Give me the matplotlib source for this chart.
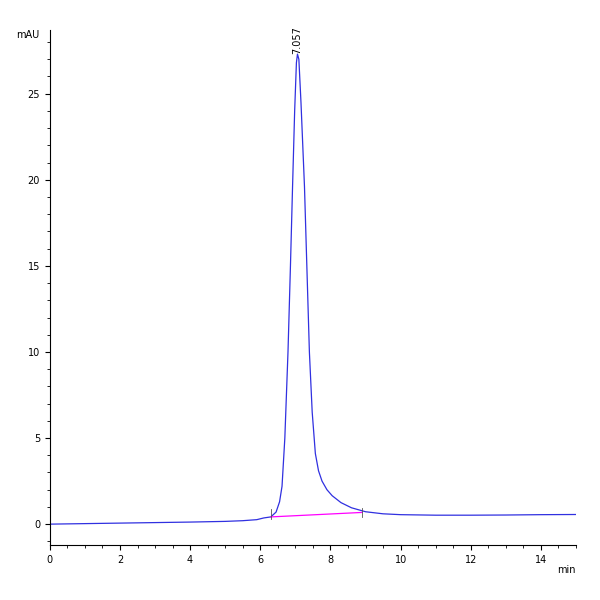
import matplotlib
matplotlib.use("Agg")
import matplotlib.pyplot as plt
from matplotlib.ticker import MultipleLocator

t = [0, 1, 2, 3, 4, 5, 5.5, 5.9, 6.1, 6.3, 6.45, 6.55, 6.62, 6.7, 6.79, 6.86, 6.92, 6.98, 7.03, 7.06,
     7.1, 7.16, 7.26, 7.33, 7.40, 7.48, 7.57, 7.66, 7.76, 7.9, 8.05, 8.3, 8.6, 9.0, 9.5, 10, 11, 12, 13, 14, 15]
sig = [0.0, 0.03, 0.06, 0.09, 0.12, 0.16, 0.2, 0.26, 0.36, 0.42, 0.7, 1.3, 2.2, 5.0, 10.0, 15.0, 19.6, 24.0, 26.8, 27.3,
       27.0, 24.5, 19.6, 14.8, 10.0, 6.5, 4.1, 3.1, 2.5, 2.0, 1.65, 1.25, 0.95, 0.72, 0.6, 0.55, 0.52, 0.52, 0.53, 0.55, 0.56]
base_t = [6.3, 8.9]
base_v = [0.42, 0.68]

fig = plt.figure(figsize=(6, 6), dpi=100)
ax = fig.add_axes([0.083, 0.092, 0.877, 0.858])
ax.plot(t, sig, color="#3030e0", lw=0.9)
ax.plot(base_t, base_v, color="#ff00ff", lw=0.9)
ax.set_xlim(0, 15)
ax.set_ylim(-1.2, 28.7)
for s in ["top", "right"]:
    ax.spines[s].set_visible(False)
ax.xaxis.set_major_locator(MultipleLocator(2))
ax.xaxis.set_minor_locator(MultipleLocator(0.5))
ax.yaxis.set_major_locator(MultipleLocator(5))
ax.yaxis.set_minor_locator(MultipleLocator(1))
ax.tick_params(labelsize=7)
ax.tick_params(which="minor", length=2)
ax.text(-0.02, 1.0, "mAU", transform=ax.transAxes, ha="right", va="top", fontsize=7)
ax.text(1.0, -0.04, "min", transform=ax.transAxes, ha="right", va="top", fontsize=7)
ax.text(7.057, 27.3, "7.057", rotation=90, ha="center", va="bottom", fontsize=7)
ax.plot([6.3, 6.3], [0.3, 0.9], color="#555555", lw=0.6)
ax.plot([8.9, 8.9], [0.4, 0.95], color="#555555", lw=0.6)
fig.savefig("out.png")
